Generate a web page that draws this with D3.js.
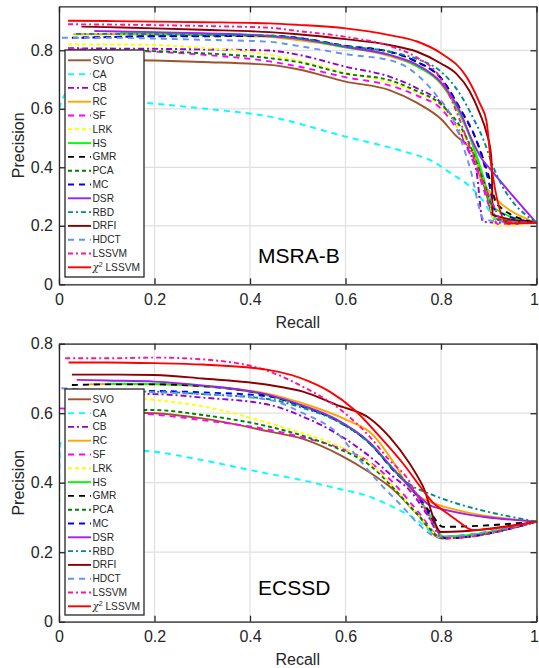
<!DOCTYPE html>
<html>
<head>
<meta charset="utf-8">
<script src="https://cdn.jsdelivr.net/npm/d3@7"></script>
<style>
  body { margin: 0; background: #fff; }
  text { font-family: "Liberation Sans", Arial, Helvetica, sans-serif; }
</style>
</head>
<body>
<script>
// legend order (also drawing order)
const methods = ["SVO", "CA", "CB", "RC", "SF", "LRK", "HS", "GMR", "PCA", "MC", "DSR", "RBD", "DRFI", "HDCT", "LSSVM", "χ2 LSSVM"];
const methodColors = ["#a0522d", "#00ffff", "#9400d3", "#ffa500", "#ff00ff", "#ffff00", "#00ff00", "#000000",
  "#008000", "#0000ff", "#a020f0", "#008b8b", "#8b0000", "#6495ed", "#ff1493", "#ff0000"];
const methodDashes = [null, "6,5", "6,3,2,3", null, "6,5", "4,3", null, "6,5",
  "4,3", "6,5", null, "5,3,2,3", null, "6,5", "5,3,2,3", null];

const xTicks = [0, 0.2, 0.4, 0.6, 0.8, 1];
const yTicks = [0, 0.2, 0.4, 0.6, 0.8];

// precision-recall curves, [recall, precision], same order as methods
const msraB = [
  [[0.019,0.767],[0.1,0.767],[0.2,0.765],[0.3,0.76],[0.441,0.75],[0.5,0.735],[0.6,0.693],[0.692,0.664],[0.75,0.62],[0.8,0.565],[0.83,0.51],[0.867,0.45],[0.895,0.31],[0.91,0.225],[1,0.21]],
  [[0,0.6],[0.016,0.653],[0.086,0.632],[0.19,0.619],[0.295,0.602],[0.441,0.573],[0.6,0.505],[0.72,0.455],[0.783,0.42],[0.82,0.38],[0.86,0.335],[0.887,0.288],[0.916,0.222],[1,0.21]],
  [[0.019,0.807],[0.1,0.806],[0.2,0.805],[0.3,0.803],[0.441,0.799],[0.5,0.785],[0.6,0.744],[0.692,0.71],[0.75,0.67],[0.8,0.62],[0.83,0.55],[0.86,0.45],[0.874,0.39],[0.888,0.214],[0.93,0.21],[1,0.21]],
  [[0.03,0.855],[0.1,0.855],[0.2,0.854],[0.3,0.852],[0.441,0.845],[0.5,0.835],[0.6,0.81],[0.692,0.78],[0.75,0.745],[0.8,0.685],[0.84,0.58],[0.863,0.493],[0.877,0.41],[0.881,0.37],[0.887,0.35],[1,0.21]],
  [[0.02,0.805],[0.1,0.8],[0.2,0.795],[0.3,0.785],[0.441,0.762],[0.5,0.745],[0.6,0.708],[0.692,0.68],[0.75,0.645],[0.8,0.6],[0.85,0.48],[0.88,0.37],[0.905,0.25],[0.92,0.205],[1,0.21]],
  [[0.019,0.82],[0.1,0.82],[0.2,0.818],[0.3,0.808],[0.441,0.785],[0.5,0.765],[0.6,0.723],[0.692,0.69],[0.75,0.655],[0.8,0.61],[0.849,0.5],[0.88,0.4],[0.9,0.3],[0.914,0.2],[1,0.21]],
  [[0.128,0.858],[0.2,0.857],[0.3,0.854],[0.441,0.848],[0.5,0.84],[0.6,0.81],[0.692,0.784],[0.75,0.745],[0.8,0.687],[0.84,0.58],[0.863,0.493],[0.89,0.36],[0.905,0.27],[0.912,0.26],[1,0.21]],
  [[0.027,0.843],[0.1,0.845],[0.2,0.848],[0.3,0.848],[0.441,0.849],[0.5,0.842],[0.6,0.815],[0.692,0.795],[0.75,0.76],[0.8,0.705],[0.84,0.6],[0.874,0.493],[0.9,0.37],[0.915,0.28],[0.923,0.265],[1,0.21]],
  [[0.019,0.8],[0.1,0.8],[0.2,0.797],[0.3,0.79],[0.441,0.773],[0.5,0.76],[0.6,0.72],[0.692,0.698],[0.75,0.66],[0.8,0.615],[0.856,0.493],[0.89,0.35],[0.92,0.22],[1,0.21]],
  [[0.047,0.843],[0.1,0.845],[0.2,0.848],[0.3,0.849],[0.441,0.85],[0.5,0.843],[0.6,0.815],[0.692,0.795],[0.75,0.76],[0.8,0.704],[0.84,0.6],[0.874,0.493],[0.9,0.35],[0.913,0.255],[1,0.21]],
  [[0.074,0.866],[0.1,0.865],[0.2,0.862],[0.3,0.858],[0.441,0.849],[0.5,0.84],[0.6,0.812],[0.692,0.784],[0.75,0.75],[0.8,0.69],[0.84,0.59],[0.863,0.5],[0.885,0.43],[0.905,0.39],[1,0.21]],
  [[0.036,0.856],[0.1,0.856],[0.2,0.855],[0.3,0.853],[0.441,0.85],[0.5,0.842],[0.6,0.815],[0.692,0.795],[0.75,0.77],[0.8,0.727],[0.84,0.65],[0.87,0.56],[0.89,0.49],[0.905,0.42],[1,0.21]],
  [[0.047,0.881],[0.1,0.879],[0.2,0.875],[0.3,0.87],[0.441,0.862],[0.5,0.855],[0.6,0.838],[0.692,0.818],[0.75,0.795],[0.8,0.755],[0.832,0.72],[0.86,0.66],[0.881,0.585],[0.895,0.52],[0.905,0.44],[0.907,0.35],[0.908,0.237],[1,0.21]],
  [[0.006,0.843],[0.1,0.843],[0.2,0.84],[0.3,0.836],[0.441,0.829],[0.5,0.815],[0.6,0.787],[0.706,0.76],[0.762,0.698],[0.79,0.647],[0.825,0.565],[0.86,0.402],[0.891,0.22],[1,0.21]],
  [[0.019,0.889],[0.1,0.888],[0.2,0.886],[0.3,0.883],[0.441,0.877],[0.5,0.866],[0.6,0.846],[0.692,0.815],[0.75,0.775],[0.797,0.71],[0.83,0.6],[0.86,0.47],[0.88,0.38],[0.905,0.288],[0.93,0.214],[1,0.21]],
  [[0.019,0.901],[0.1,0.9],[0.2,0.898],[0.3,0.896],[0.441,0.892],[0.5,0.887],[0.6,0.875],[0.692,0.852],[0.75,0.83],[0.8,0.79],[0.853,0.71],[0.881,0.619],[0.895,0.56],[0.905,0.41],[0.94,0.208],[1,0.21]]
];

const ecssd = [
  [[0.03,0.604],[0.1,0.603],[0.2,0.6],[0.3,0.585],[0.441,0.547],[0.511,0.526],[0.588,0.48],[0.65,0.43],[0.7,0.38],[0.75,0.31],[0.8,0.24],[1,0.288]],
  [[0,0.28],[0.002,0.514],[0.05,0.505],[0.1,0.497],[0.2,0.489],[0.3,0.465],[0.434,0.427],[0.5,0.41],[0.581,0.384],[0.65,0.36],[0.7,0.33],[0.745,0.297],[0.8,0.245],[1,0.288]],
  [[0.02,0.657],[0.1,0.656],[0.2,0.655],[0.3,0.645],[0.441,0.624],[0.511,0.59],[0.581,0.542],[0.651,0.475],[0.7,0.417],[0.734,0.379],[0.77,0.31],[0.805,0.24],[1,0.288]],
  [[0.06,0.683],[0.1,0.684],[0.2,0.683],[0.3,0.678],[0.441,0.655],[0.511,0.628],[0.6,0.582],[0.658,0.537],[0.7,0.46],[0.734,0.385],[0.776,0.345],[1,0.288]],
  [[0.002,0.614],[0.05,0.61],[0.1,0.605],[0.2,0.596],[0.3,0.58],[0.441,0.552],[0.511,0.53],[0.6,0.494],[0.65,0.46],[0.7,0.4],[0.75,0.32],[0.805,0.24],[1,0.288]],
  [[0.03,0.648],[0.1,0.645],[0.2,0.638],[0.3,0.62],[0.441,0.571],[0.511,0.542],[0.581,0.508],[0.651,0.456],[0.7,0.389],[0.75,0.31],[0.805,0.24],[1,0.288]],
  [[0.1,0.685],[0.2,0.684],[0.3,0.678],[0.441,0.65],[0.511,0.619],[0.581,0.58],[0.651,0.513],[0.7,0.437],[0.741,0.379],[0.775,0.31],[0.805,0.245],[1,0.288]],
  [[0.027,0.681],[0.1,0.683],[0.2,0.683],[0.3,0.678],[0.441,0.65],[0.511,0.62],[0.581,0.58],[0.651,0.513],[0.7,0.437],[0.741,0.379],[0.78,0.31],[0.804,0.273],[1,0.288]],
  [[0.03,0.609],[0.1,0.609],[0.2,0.609],[0.3,0.595],[0.441,0.561],[0.511,0.535],[0.581,0.5],[0.651,0.45],[0.7,0.385],[0.75,0.31],[0.805,0.24],[1,0.288]],
  [[0.027,0.667],[0.1,0.665],[0.2,0.664],[0.3,0.66],[0.441,0.648],[0.511,0.619],[0.581,0.58],[0.651,0.513],[0.7,0.437],[0.741,0.379],[0.775,0.31],[0.81,0.24],[1,0.288]],
  [[0.037,0.696],[0.1,0.694],[0.2,0.691],[0.3,0.68],[0.441,0.652],[0.511,0.622],[0.581,0.582],[0.651,0.515],[0.7,0.44],[0.74,0.38],[0.783,0.331],[1,0.288]],
  [[0.08,0.662],[0.2,0.662],[0.3,0.655],[0.441,0.64],[0.511,0.615],[0.581,0.578],[0.651,0.513],[0.7,0.44],[0.74,0.39],[0.766,0.374],[1,0.288]],
  [[0.027,0.711],[0.1,0.711],[0.2,0.71],[0.3,0.7],[0.441,0.681],[0.511,0.662],[0.581,0.624],[0.651,0.585],[0.692,0.532],[0.734,0.456],[0.762,0.39],[0.8,0.258],[1,0.288]],
  [[0.005,0.672],[0.1,0.665],[0.2,0.66],[0.3,0.655],[0.441,0.638],[0.511,0.6],[0.581,0.545],[0.63,0.465],[0.665,0.408],[0.72,0.33],[0.755,0.278],[0.792,0.245],[1,0.288]],
  [[0.013,0.758],[0.1,0.758],[0.2,0.76],[0.3,0.755],[0.441,0.72],[0.511,0.676],[0.581,0.619],[0.651,0.532],[0.692,0.465],[0.727,0.417],[0.76,0.34],[0.81,0.24],[1,0.288]],
  [[0.02,0.746],[0.1,0.746],[0.2,0.744],[0.3,0.74],[0.441,0.724],[0.525,0.691],[0.567,0.662],[0.619,0.609],[0.672,0.532],[0.72,0.456],[0.762,0.379],[0.785,0.34],[0.804,0.321],[0.835,0.29],[0.867,0.264],[1,0.288]]
];

const width = 539, height = 668;
const left = 59, right = 536.5;
const axisColor = "#262626";

const svg = d3.select('body').append('svg')
  .attr('width', width)
  .attr('height', height);

svg.append('rect').attr('width', width).attr('height', height).attr('fill', '#fff');

// the two panels
const panels = [
  {name: "MSRA-B", curves: msraB, yMax: 0.95, top: 6.4, bottom: 284.3, legendTop: 50, legendBottom: 277, labelY: 263.3},
  {name: "ECSSD", curves: ecssd, yMax: 0.8, top: 343.7, bottom: 621.7, legendTop: 389, legendBottom: 615, labelY: 595}
];

panels.forEach((p, k) => drawPanel(p, k));

function drawPanel(p, k) {
  const x = d3.scaleLinear().domain([0, 1]).range([left, right]);
  const y = d3.scaleLinear().domain([0, p.yMax]).range([p.bottom, p.top]);
  const g = svg.append('g');

  // grid
  g.selectAll('line.vgrid').data(xTicks).join('line')
    .attr('x1', d => x(d)).attr('x2', d => x(d))
    .attr('y1', p.top).attr('y2', p.bottom)
    .attr('stroke', '#dfdfdf').attr('stroke-width', 1.2);
  g.selectAll('line.hgrid').data(yTicks).join('line')
    .attr('x1', left).attr('x2', right)
    .attr('y1', d => y(d)).attr('y2', d => y(d))
    .attr('stroke', '#dfdfdf').attr('stroke-width', 1.2);

  // clip the curves to the plot box
  svg.append('clipPath').attr('id', 'clip' + k)
    .append('rect').attr('x', left).attr('y', p.top)
    .attr('width', right - left).attr('height', p.bottom - p.top);

  const line = d3.line()
    .x(d => x(d[0]))
    .y(d => y(d[1]))
    .curve(d3.curveMonotoneX);

  g.append('g').attr('clip-path', `url(#clip${k})`)
    .selectAll('path').data(p.curves).join('path')
    .attr('d', line)
    .attr('fill', 'none')
    .attr('stroke', (d, i) => methodColors[i])
    .attr('stroke-width', 1.9)
    .attr('stroke-dasharray', (d, i) => methodDashes[i]);

  // axes, ticks pointing inward on all four sides
  const fmt = d3.format('~g');
  const styleAxis = (a) => {
    a.attr('font-size', 16).attr('font-family', '"Liberation Sans", Arial, sans-serif');
    a.select('.domain').attr('stroke', axisColor).attr('stroke-width', 1.3);
    a.selectAll('.tick line').attr('stroke', axisColor).attr('stroke-width', 1.3);
    a.selectAll('.tick text').attr('fill', axisColor);
  };
  g.append('g').attr('transform', `translate(0,${p.bottom})`)
    .call(d3.axisBottom(x).tickValues(xTicks).tickFormat(fmt).tickSizeInner(-6).tickSizeOuter(0).tickPadding(9))
    .call(styleAxis)
    .selectAll('.tick text').filter(d => d === 1).attr('x', -2.5); // keep "1" inside the page
  g.append('g').attr('transform', `translate(0,${p.top})`)
    .call(d3.axisTop(x).tickValues(xTicks).tickFormat('').tickSizeInner(-6).tickSizeOuter(0))
    .call(styleAxis);
  g.append('g').attr('transform', `translate(${left},0)`)
    .call(d3.axisLeft(y).tickValues(yTicks).tickFormat(fmt).tickSizeInner(-6).tickSizeOuter(0).tickPadding(6))
    .call(styleAxis);
  g.append('g').attr('transform', `translate(${right},0)`)
    .call(d3.axisRight(y).tickValues(yTicks).tickFormat('').tickSizeInner(-6).tickSizeOuter(0))
    .call(styleAxis);

  // axis titles
  g.append('text')
    .attr('x', (left + right) / 2).attr('y', p.bottom + 38)
    .attr('dy', '0.35em')
    .attr('text-anchor', 'middle')
    .attr('font-size', 16).attr('fill', axisColor)
    .text('Recall');
  g.append('text')
    .attr('transform', `translate(18,${(p.top + p.bottom) / 2}) rotate(-90)`)
    .attr('dy', '0.35em')
    .attr('text-anchor', 'middle')
    .attr('font-size', 16).attr('fill', axisColor)
    .text('Precision');

  // dataset name
  g.append('text')
    .attr('x', 258).attr('y', p.labelY)
    .attr('font-size', 21).attr('fill', '#000')
    .text(p.name);

  // legend
  const lg = g.append('g');
  lg.append('rect')
    .attr('x', 65).attr('y', p.legendTop)
    .attr('width', 79).attr('height', p.legendBottom - p.legendTop)
    .attr('fill', '#fff').attr('stroke', axisColor).attr('stroke-width', 1.3);

  const item = lg.selectAll('g.item').data(methods).join('g')
    .attr('transform', (d, i) => `translate(0,${p.legendTop + 10.3 + i * 13.8})`);
  item.append('line')
    .attr('x1', 68).attr('x2', 91)
    .attr('stroke', (d, i) => methodColors[i])
    .attr('stroke-width', 1.9)
    .attr('stroke-dasharray', (d, i) => methodDashes[i]);
  item.each(function(d) {
    const t = d3.select(this).append('text')
      .attr('x', 92.5).attr('dy', '0.35em')
      .attr('font-size', 10.2).attr('fill', axisColor);
    if (d.startsWith('χ2')) {
      t.append('tspan').attr('font-family', '"DejaVu Serif", serif').attr('font-style', 'italic').text('χ');
      t.append('tspan').attr('font-size', 7).attr('dy', '-4').text('2');
      t.append('tspan').attr('dy', '4').text(' ' + d.split(' ')[1]);
    } else {
      t.text(d);
    }
  });
}
</script>
</body>
</html>
